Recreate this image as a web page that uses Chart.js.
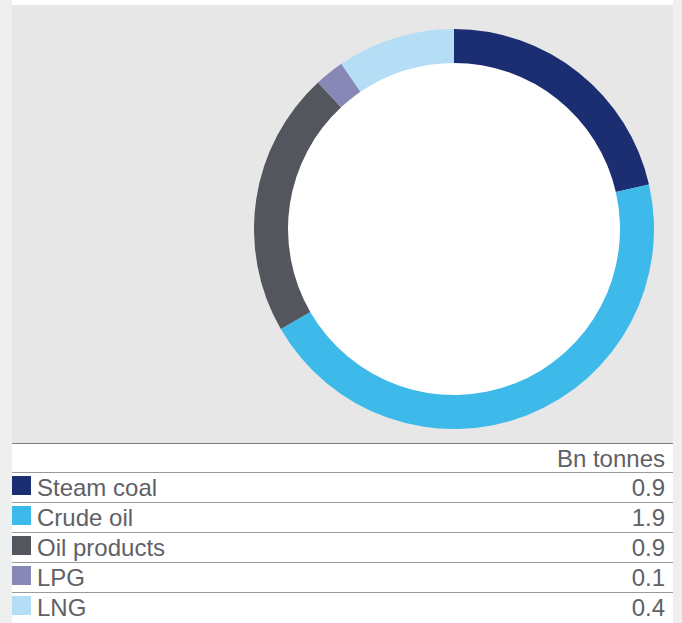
<!DOCTYPE html>
<html lang="en">
<head>
    <meta charset="UTF-8">
    <title>Seaborne energy trade</title>
    <script src="https://cdn.jsdelivr.net/npm/chart.js@4.4.1/dist/chart.umd.min.js"></script>
    <style>
        html, body { margin: 0; padding: 0; }
        body { background: #eef0ef; width: 682px; height: 623px; overflow: hidden; font-family: "Liberation Sans", Arial, sans-serif; }
        #page { position: absolute; left: 12px; top: 0; width: 661px; height: 623px; background: #fff; }
        #panel { position: absolute; left: 0; top: 5px; width: 661px; height: 438px; background: #e7e7e7; }
        #chartBox { position: absolute; left: 242px; top: 24px; width: 400px; height: 400px; }
        #table { position: absolute; left: 0; top: 443px; width: 661px; color: #606166; font-size: 24px; }
        .row { position: relative; height: 29px; line-height: 30px; border-top: 1px solid #9a9a9a; }
        .row.head { border-top-color: #7d7d7d; height: 28px; line-height: 29px; }
        .swatch { position: absolute; left: 0; top: 3px; width: 19px; height: 19px; }
        .label { position: absolute; left: 25px; top: 0; }
        .value { position: absolute; right: 8px; top: 0; }
    </style>
</head>
<body>
    <div id="page">
        <div id="panel">
            <div id="chartBox"><canvas id="donut" width="400" height="400"></canvas></div>
        </div>
        <div id="table"></div>
    </div>

    <script>
        const categories = ['Steam coal', 'Crude oil', 'Oil products', 'LPG', 'LNG'];
        const tonnes = [0.9, 1.9, 0.9, 0.1, 0.4];
        const colours = ['#1c2e72', '#3db9ea', '#53565d', '#8788b5', '#b5def6'];
        const unitLabel = 'Bn tonnes';

        // white fill behind the hole of the ring
        const holeFill = {
            id: 'holeFill',
            beforeDatasetsDraw(chart) {
                const arc = chart.getDatasetMeta(0).data[0];
                if (!arc) return;
                const ctx = chart.ctx;
                ctx.save();
                ctx.fillStyle = '#ffffff';
                ctx.beginPath();
                ctx.arc(arc.x, arc.y, arc.innerRadius + 0.5, 0, Math.PI * 2);
                ctx.fill();
                ctx.restore();
            }
        };

        new Chart(document.getElementById('donut'), {
            type: 'doughnut',
            data: {
                labels: categories,
                datasets: [{
                    data: tonnes,
                    backgroundColor: colours,
                    borderWidth: 0
                }]
            },
            options: {
                responsive: false,
                animation: false,
                cutout: '83%',
                layout: { padding: 0 },
                plugins: {
                    legend: { display: false },
                    tooltip: { enabled: false }
                }
            },
            plugins: [holeFill]
        });

        // legend table with values
        const table = document.getElementById('table');
        let html = '<div class="row head"><span class="value">' + unitLabel + '</span></div>';
        categories.forEach((name, i) => {
            html += '<div class="row"><span class="swatch" style="background:' + colours[i] + '"></span>' +
                '<span class="label">' + name + '</span>' +
                '<span class="value">' + tonnes[i].toFixed(1) + '</span></div>';
        });
        table.innerHTML = html;
    </script>
</body>
</html>
